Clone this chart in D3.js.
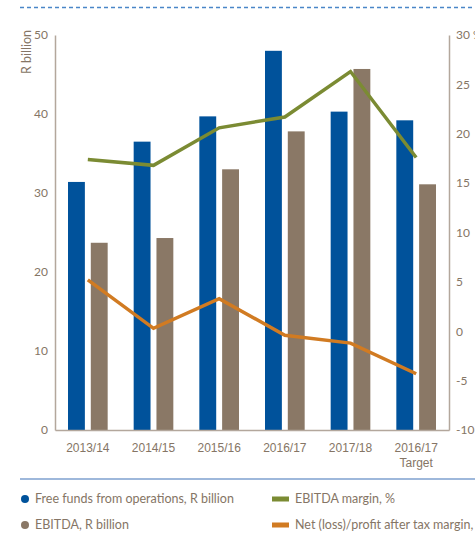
<!DOCTYPE html>
<html>
<head>
<meta charset="utf-8">
<script src="https://cdn.jsdelivr.net/npm/d3@7/dist/d3.min.js"></script>
<style>
  html, body { margin: 0; padding: 0; background: #fff; overflow: hidden; }
  svg { display: block; font-family: Lato, "Open Sans", sans-serif; }
</style>
</head>
<body>
<svg id="chart" width="475" height="534"></svg>
<script>
// --- Data ---
const categories = ["2013/14", "2014/15", "2015/16", "2016/17", "2017/18", "2016/17|Target"];
const freeFunds = [31.4, 36.5, 39.7, 48.0, 40.3, 39.2];      // R billion
const ebitda = [23.7, 24.3, 33.0, 37.8, 45.7, 31.1];         // R billion
const ebitdaMargin = [17.4, 16.8, 20.6, 21.7, 26.3, 17.6];   // %
const netMargin = [5.2, 0.3, 3.3, -0.4, -1.2, -4.3];         // %
const leftTicks = [0, 10, 20, 30, 40, 50];
const rightTicks = [-10, -5, 0, 5, 10, 15, 20, 25, 30];

const colors = {
  blue: "#00529b",
  brown: "#8a7866",
  green: "#7b8b33",
  orange: "#d17b22",
  axis: "#b3a79c",
  text: "#857565",
  rule: "#3f73b8"
};

const svg = d3.select("#chart");

const x0 = 55, x1 = 449, yTop = 35, yBase = 430;

// --- Scales ---
const xScale = d3.scaleBand().domain(categories).range([x0, x1]).padding(0);
const bw = xScale.bandwidth();
const xSub = d3.scaleBand().domain(["ffo", "ebitda"]).range([13, bw - 13]).paddingInner(0.26);
const yLeft = d3.scaleLinear().domain([0, 50]).range([yBase, yTop]);
const yRight = d3.scaleLinear().domain([-10, 30]).range([yBase, yTop]);

// Top dashed rule
svg.append("line")
  .attr("x1", 20).attr("x2", 475).attr("y1", 7.5).attr("y2", 7.5)
  .attr("stroke", "#4a86c8").attr("stroke-width", 1.5)
  .attr("stroke-dasharray", "4,3");

// --- Bars ---
const groups = svg.append("g").selectAll("g")
  .data(categories)
  .join("g")
  .attr("transform", d => `translate(${xScale(d)},0)`);

groups.append("rect")
  .attr("x", xSub("ffo"))
  .attr("width", xSub.bandwidth())
  .attr("y", (d, i) => yLeft(freeFunds[i]))
  .attr("height", (d, i) => yLeft(0) - yLeft(freeFunds[i]))
  .attr("fill", colors.blue);

groups.append("rect")
  .attr("x", xSub("ebitda"))
  .attr("width", xSub.bandwidth())
  .attr("y", (d, i) => yLeft(ebitda[i]))
  .attr("height", (d, i) => yLeft(0) - yLeft(ebitda[i]))
  .attr("fill", colors.brown);

// --- Lines ---
const line = d3.line()
  .x((d, i) => xScale(categories[i]) + bw / 2)
  .y(d => yRight(d));

svg.append("path")
  .datum(ebitdaMargin)
  .attr("d", line)
  .attr("fill", "none")
  .attr("stroke", colors.green)
  .attr("stroke-width", 3.5);

svg.append("path")
  .datum(netMargin)
  .attr("d", line)
  .attr("fill", "none")
  .attr("stroke", colors.orange)
  .attr("stroke-width", 3.5);

// --- Axes ---
const leftAxis = svg.append("g")
  .attr("transform", `translate(${x0},0)`)
  .call(d3.axisLeft(yLeft).tickValues(leftTicks).tickSize(0).tickPadding(7));

const rightAxis = svg.append("g")
  .attr("transform", `translate(${x1},0)`)
  .call(d3.axisRight(yRight).tickValues(rightTicks).tickSize(0).tickPadding(7)
    .tickFormat(d => d === 30 ? "30 %" : d));

const bottomAxis = svg.append("g")
  .attr("transform", `translate(0,${yBase})`)
  .call(d3.axisBottom(xScale).tickSize(0).tickPadding(12).tickFormat(""));

[leftAxis, rightAxis, bottomAxis].forEach(a => {
  a.select(".domain").attr("stroke", colors.axis).attr("stroke-width", 1.5);
  a.selectAll("text")
    .attr("fill", colors.text)
    .style("font-size", "12px")
    .style("font-family", "Lato, 'Open Sans', sans-serif");
});

// Category labels (two-line for Target)
bottomAxis.selectAll(".tick").append("text")
  .attr("fill", colors.text)
  .attr("text-anchor", "middle")
  .style("font-size", "12px")
  .each(function (d) {
    const parts = d.split("|");
    const t = d3.select(this);
    parts.forEach((p, i) => {
      t.append("tspan").attr("x", 0).attr("y", 22 + i * 15).text(p);
    });
  });

// Y-axis title
svg.append("text")
  .attr("transform", "translate(31,30) rotate(-90)")
  .attr("text-anchor", "end")
  .attr("fill", colors.text)
  .style("font-size", "12.5px")
  .text("R billion");

// Rule above legend
svg.append("line")
  .attr("x1", 20).attr("x2", 475).attr("y1", 479).attr("y2", 479)
  .attr("stroke", colors.rule).attr("stroke-width", 1.2);

// --- Legend ---
const legendItems = [
  { label: "Free funds from operations, R billion", color: colors.blue, type: "dot", x: 25, y: 499 },
  { label: "EBITDA, R billion", color: colors.brown, type: "dot", x: 25, y: 525 },
  { label: "EBITDA margin, %", color: colors.green, type: "bar", x: 272, y: 499 },
  { label: "Net (loss)/profit after tax margin, %", color: colors.orange, type: "bar", x: 272, y: 525 }
];

const legend = svg.append("g").selectAll("g")
  .data(legendItems)
  .join("g")
  .attr("transform", d => `translate(${d.x},${d.y})`);

legend.filter(d => d.type === "dot").append("circle")
  .attr("r", 4).attr("cx", 0).attr("cy", 0)
  .attr("fill", d => d.color);

legend.filter(d => d.type === "bar").append("rect")
  .attr("x", 0).attr("y", -2.5).attr("width", 17).attr("height", 5)
  .attr("fill", d => d.color);

legend.append("text")
  .attr("x", d => d.type === "dot" ? 10 : 23)
  .attr("y", 0)
  .attr("dy", "0.35em")
  .attr("fill", colors.text)
  .style("font-size", "12.5px")
  .text(d => d.label);
</script>
</body>
</html>
